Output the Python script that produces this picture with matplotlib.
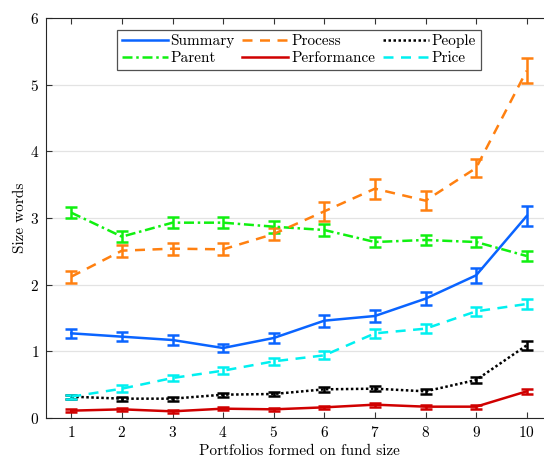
import numpy as np
import matplotlib
matplotlib.use("Agg")
import matplotlib.pyplot as plt

plt.rcParams['font.family'] = 'cmr10'
plt.rcParams['mathtext.fontset'] = 'cm'
plt.rcParams['axes.formatter.use_mathtext'] = True

portfolios = np.arange(1, 11)

summary = [1.27, 1.22, 1.17, 1.05, 1.20, 1.46, 1.53, 1.79, 2.14, 3.03]
summary_err = [0.07, 0.07, 0.07, 0.06, 0.07, 0.09, 0.09, 0.10, 0.11, 0.15]
process = [2.12, 2.51, 2.54, 2.53, 2.76, 3.10, 3.44, 3.26, 3.75, 5.21]
process_err = [0.09, 0.09, 0.09, 0.09, 0.09, 0.14, 0.15, 0.14, 0.14, 0.19]
people = [0.32, 0.29, 0.29, 0.35, 0.36, 0.43, 0.44, 0.40, 0.57, 1.09]
people_err = [0.03, 0.03, 0.03, 0.03, 0.03, 0.04, 0.04, 0.04, 0.05, 0.07]
parent = [3.08, 2.72, 2.93, 2.93, 2.87, 2.82, 2.64, 2.67, 2.64, 2.43]
parent_err = [0.08, 0.08, 0.08, 0.08, 0.09, 0.09, 0.07, 0.07, 0.07, 0.08]
performance = [0.11, 0.13, 0.10, 0.14, 0.13, 0.16, 0.20, 0.17, 0.17, 0.40]
performance_err = [0.02, 0.02, 0.02, 0.02, 0.02, 0.02, 0.03, 0.03, 0.03, 0.04]
price = [0.32, 0.44, 0.60, 0.71, 0.85, 0.94, 1.27, 1.34, 1.60, 1.71]
price_err = [0.03, 0.05, 0.05, 0.05, 0.05, 0.06, 0.07, 0.07, 0.07, 0.07]

# name, values, errors, colour, linestyle (ordered so the 3-col legend reads row-wise)
series = [
    ("Summary", summary, summary_err, "#0a64ff", "-"),
    ("Parent", parent, parent_err, "#10f010", (0, (4, 1.5, 1, 1.5))),
    ("Process", process, process_err, "#ff8010", (0, (4, 3))),
    ("Performance", performance, performance_err, "#d00000", "-"),
    ("People", people, people_err, "black", (0, (1, 1))),
    ("Price", price, price_err, "#00f0f0", (0, (4, 3))),
]

fig = plt.figure(figsize=(5.44, 4.59), dpi=100)
ax = fig.add_axes([46 / 544, 1 - 418 / 459, (552 - 46) / 544, 400 / 459])

handles = []
for name, vals, errs, col, ls in series:
    eb = ax.errorbar(portfolios, vals, yerr=errs, color=col, lw=1.8, ls=ls,
                     elinewidth=1.8, capsize=4, capthick=1.8, label=name)
    handles.append(eb.lines[0])

ax.set_xlim(0.5, 10.5)
ax.set_ylim(0, 6)
ax.set_xticks(portfolios)
ax.set_yticks(range(0, 7))
ax.yaxis.grid(True, color="#e3e3e3", lw=0.9)
ax.set_axisbelow(True)
ax.tick_params(direction="in", top=True, right=False, labelsize=11,
               color="#333333", length=4, pad=5)
for s in ["left", "bottom", "top"]:
    ax.spines[s].set_color("#262626")
ax.spines["right"].set_visible(False)

ax.set_xlabel("Portfolios formed on fund size", fontsize=11, labelpad=3)
ax.set_ylabel("Size words", fontsize=11, labelpad=2)

leg = ax.legend(handles, [s[0] for s in series], ncol=3, loc="upper center",
                bbox_to_anchor=(0.5, 0.99), fontsize=11, frameon=True,
                fancybox=False, edgecolor="#262626", columnspacing=0.5,
                handlelength=3.0, handletextpad=0.2, labelspacing=0.2,
                borderpad=0.3)
leg.get_frame().set_linewidth(0.9)

fig.savefig("out.png", dpi=100)
